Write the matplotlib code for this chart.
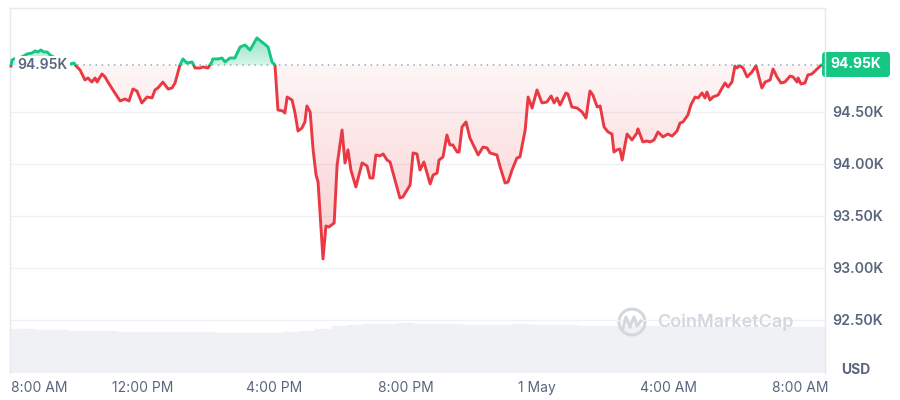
import matplotlib.pyplot as plt
import matplotlib.patches as mpatches
from matplotlib.path import Path
from matplotlib.lines import Line2D
import numpy as np

plt.rcParams['font.family'] = ['Inter', 'DejaVu Sans']

# hours after 8:00 AM (30 Apr) and BTC price in USD
hours = [0.00, 0.03, 0.15, 0.33, 0.49, 0.64, 0.73, 0.82, 0.91, 1.00, 1.10, 1.19, 1.34, 1.49, 1.67,
         1.79, 1.92, 1.98, 2.10, 2.25, 2.34, 2.46, 2.56, 2.62, 2.71, 2.77, 2.86, 2.95, 3.10, 3.32,
         3.47, 3.59, 3.71, 3.83, 3.98, 4.14, 4.29, 4.38, 4.47, 4.62, 4.78, 4.90, 4.99, 5.14, 5.23,
         5.35, 5.51, 5.60, 5.75, 5.84, 5.99, 6.11, 6.14, 6.30, 6.42, 6.51, 6.66, 6.81, 6.97, 7.12,
         7.27, 7.48, 7.67, 7.82, 7.94, 8.03, 8.12, 8.27, 8.33, 8.40, 8.55, 8.64, 8.73, 8.85, 8.94,
         9.00, 9.10, 9.19, 9.28, 9.34, 9.49, 9.58, 9.67, 9.83, 9.92, 10.07, 10.16, 10.25, 10.34, 10.49,
         10.68, 10.83, 10.92, 11.01, 11.10, 11.22, 11.32, 11.44, 11.53, 11.83, 11.92, 12.05, 12.14, 12.23, 12.35,
         12.44, 12.56, 12.75, 12.84, 12.96, 13.02, 13.14, 13.26, 13.35, 13.44, 13.57, 13.63, 13.72, 13.84, 13.96,
         14.21, 14.36, 14.48, 14.57, 14.78, 14.87, 15.03, 15.12, 15.24, 15.39, 15.48, 15.64, 15.73, 15.85, 16.00,
         16.15, 16.30, 16.43, 16.52, 16.61, 16.70, 16.88, 16.94, 17.06, 17.22, 17.37, 17.49, 17.61, 17.70, 17.83,
         17.92, 18.04, 18.16, 18.28, 18.34, 18.43, 18.52, 18.59, 18.74, 18.89, 19.04, 19.07, 19.22, 19.35, 19.44,
         19.56, 19.68, 19.83, 19.98, 20.11, 20.26, 20.35, 20.44, 20.59, 20.68, 20.81, 20.90, 21.02, 21.11, 21.17,
         21.26, 21.35, 21.51, 21.63, 21.72, 21.81, 21.93, 22.02, 22.08, 22.17, 22.27, 22.39, 22.54, 22.66, 22.72,
         22.84, 22.94, 23.09, 23.18, 23.30, 23.42, 23.54, 23.70, 23.79, 23.91, 23.94, 24.03, 24.15, 24.24, 24.36,
         24.52, 24.64]
price = [94942, 95000, 95019, 95029, 95058, 95067, 95087, 95077, 95096, 95077, 95077, 95048, 95019, 95000, 94981,
         94962, 94971, 94942, 94904, 94808, 94827, 94788, 94827, 94788, 94837, 94865, 94837, 94788, 94712, 94606,
         94625, 94606, 94721, 94702, 94587, 94644, 94635, 94712, 94731, 94788, 94721, 94731, 94779, 94952, 95010,
         94971, 94981, 94923, 94923, 94933, 94923, 94981, 95010, 95010, 95019, 94981, 95019, 95019, 95125, 95144,
         95096, 95212, 95163, 95125, 94981, 94952, 94519, 94510, 94490, 94644, 94615, 94490, 94317, 94346, 94404,
         94558, 94500, 94135, 93894, 93827, 93087, 93404, 93394, 93433, 93990, 94327, 94010, 94135, 93942, 93779,
         94010, 93981, 93865, 93865, 94087, 94077, 94096, 94038, 94019, 93673, 93683, 93750, 93798, 94106, 94096,
         93942, 94019, 93808, 93894, 93913, 94038, 94067, 94279, 94183, 94183, 94115, 94115, 94356, 94404, 94250,
         94087, 94163, 94154, 94106, 94087, 93981, 93817, 93827, 93942, 94058, 94067, 94327, 94644, 94538, 94712,
         94587, 94596, 94654, 94587, 94635, 94567, 94683, 94673, 94548, 94538, 94500, 94442, 94702, 94663, 94548,
         94558, 94356, 94308, 94288, 94115, 94135, 94144, 94038, 94288, 94231, 94298, 94337, 94212, 94221, 94212,
         94231, 94308, 94260, 94288, 94269, 94317, 94394, 94404, 94471, 94567, 94644, 94635, 94683, 94635, 94692,
         94615, 94644, 94663, 94731, 94779, 94740, 94788, 94942, 94923, 94945, 94923, 94837, 94885, 94945, 94875,
         94731, 94788, 94808, 94913, 94837, 94779, 94788, 94846, 94837, 94788, 94827, 94769, 94779, 94856, 94865,
         94913, 94950]
base_price = 94950

# rolling volume (billions), every 30 min
vol_hours = np.arange(0, 25, 0.5)
volume = [26.4, 26.4, 25.8, 25.8, 25.2, 25.2, 25.2, 24.6, 24.6, 24.6, 24.6, 24.6, 24.6, 24.0, 24.0,
          24.0, 24.0, 24.6, 25.2, 26.4, 28.2, 28.8, 29.4, 29.4, 30.0, 29.4, 29.4, 29.4, 28.8, 28.8,
          28.8, 29.4, 28.8, 28.8, 28.8, 28.2, 28.2, 28.2, 28.2, 28.2, 28.2, 28.2, 28.2, 27.6, 27.6,
          27.6, 27.6, 27.6, 27.6, 27.6]

tick_hours = [0, 4, 8, 12, 16, 20, 24]
tick_labels = ['8:00 AM', '12:00 PM', '4:00 PM', '8:00 PM', '1 May', '4:00 AM', '8:00 AM']
ytick_vals = [92500, 93000, 93500, 94000, 94500]

red = '#EA3943'
green = '#16C784'
grey_txt = '#58667E'

t = np.array(hours)
p = np.array(price)

fig = plt.figure(figsize=(9, 4), dpi=100)
ax = fig.add_axes([10/900, 27/400, 815/900, 365/400])
ax2 = ax.twinx()
ax.set_zorder(2)
ax.patch.set_visible(False)
ax2.set_zorder(1)

xmin, xmax = -0.03, 24.76
ymin, ymax = 91990, 95500

# volume
ax2.bar(vol_hours, volume, width=0.5, color='#EFF1F4', edgecolor='#F3F5F7', linewidth=0.3)
ax2.set_ylim(0, 219)
ax2.axis('off')

# gradient fills
poly_r = ax.fill_between(t, p, base_price, where=p < base_price, interpolate=True, color='none')
poly_g = ax.fill_between(t, p, base_price, where=p > base_price, interpolate=True, color='none')

n = 256
g = np.linspace(0, 1, n).reshape(-1, 1)
rgba_r = np.zeros((n, 1, 4))
rgba_r[..., :3] = np.array([234, 57, 67]) / 255
rgba_r[..., 3] = 0.05 + 0.32 * (1 - g[:, 0:1])  # deeper = stronger
im_r = ax.imshow(rgba_r, extent=[xmin, xmax, ymin, base_price], origin='lower', aspect='auto',
                 zorder=1, interpolation='bilinear')
im_r.set_clip_path(Path.make_compound_path(*poly_r.get_paths()), transform=ax.transData)

rgba_g = np.zeros((n, 1, 4))
rgba_g[..., :3] = np.array([22, 199, 132]) / 255
rgba_g[..., 3] = 0.18 + 0.30 * g[:, 0:1]
im_g = ax.imshow(rgba_g, extent=[xmin, xmax, base_price, 95230], origin='lower', aspect='auto',
                 zorder=1, interpolation='bilinear')
im_g.set_clip_path(Path.make_compound_path(*poly_g.get_paths()), transform=ax.transData)

# baseline
ax.axhline(base_price, color='#9AA5B8', lw=1.1, ls=(0, (1, 3)), zorder=2)

# price line, red below baseline, green above
ln_r, = ax.plot(t, p, color=red, lw=2.1, zorder=3, solid_joinstyle='round')
ln_g, = ax.plot(t, p, color=green, lw=2.1, zorder=3, solid_joinstyle='round')
clip_below = mpatches.Rectangle((xmin - 1, ymin - 1000), 30, base_price - ymin + 1000, transform=ax.transData)
clip_above = mpatches.Rectangle((xmin - 1, base_price), 30, 2000, transform=ax.transData)
ln_r.set_clip_path(clip_below)
ln_g.set_clip_path(clip_above)

ax.set_xlim(xmin, xmax)
ax.set_ylim(ymin, ymax)

ax.set_yticks(ytick_vals)
ax.set_yticklabels(['%.2fK' % (v / 1000) for v in ytick_vals])
ax.yaxis.tick_right()
ax.grid(axis='y', color='#EFF2F5', lw=1)
ax.set_axisbelow(True)
ax.tick_params(axis='y', length=0, pad=5, labelcolor=grey_txt, labelsize=10.2)
for lb in ax.get_yticklabels():
    lb.set_fontweight('semibold')

ax.set_xticks(tick_hours)
ax.set_xticklabels(tick_labels)
ax.tick_params(axis='x', length=0, pad=6, labelcolor=grey_txt, labelsize=10)
ax.get_xticklabels()[0].set_ha('left')

for s in ['top', 'left', 'right']:
    ax.spines[s].set_color('#E6E9EE')
    ax.spines[s].set_linewidth(1)
ax.spines['bottom'].set_visible(False)

# left baseline label
ax.text(0.2, base_price, '94.95K', ha='left', va='center', color=grey_txt, fontsize=10,
        fontweight='semibold', zorder=5,
        bbox=dict(facecolor='white', edgecolor='none', pad=1.5))

# current price badge
badge = mpatches.FancyBboxPatch((822/900, 323/400), 68/900, 25/400,
                                boxstyle='round,pad=0,rounding_size=0.004', mutation_aspect=2.25,
                                transform=fig.transFigure, facecolor=green, edgecolor='none')
fig.patches.append(badge)
fig.text(856/900, 335.5/400, '94.95K', ha='center', va='center', color='white', fontsize=10,
         fontweight='bold')

fig.text(856/900, 30/400, 'USD', ha='center', va='center', color=grey_txt, fontsize=10, fontweight='bold')

# watermark
wm = '#D3D8E0'
circ = mpatches.Ellipse((632/900, 78/400), 26/900, 26/400, transform=fig.transFigure,
                        fill=False, edgecolor=wm, lw=2.2)
fig.patches.append(circ)
fig.lines.append(Line2D(np.array([623, 626, 630, 634, 637, 641]) / 900,
                        np.array([72, 83, 73, 83, 74, 79]) / 400,
                        transform=fig.transFigure, color=wm, lw=2.2, solid_joinstyle='round'))
fig.text(657/900, 78/400, 'CoinMarketCap', ha='left', va='center', color=wm, fontsize=13,
         fontweight='semibold')

fig.savefig('out.png', dpi=100, facecolor='white')
